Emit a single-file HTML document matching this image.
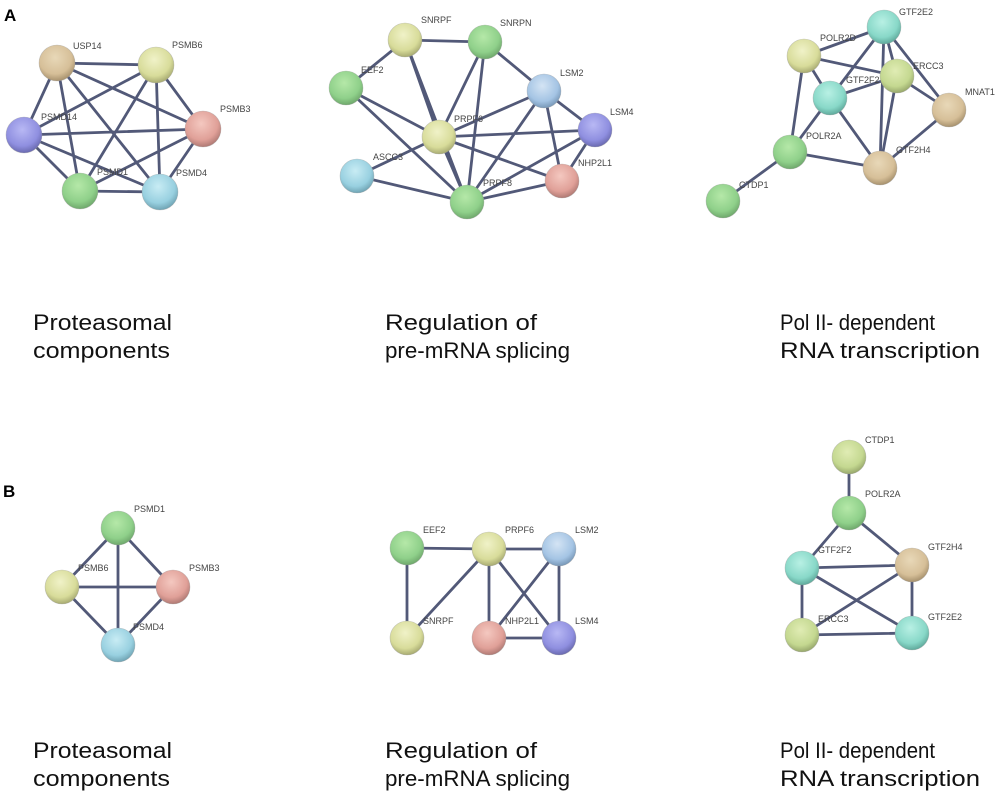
<!DOCTYPE html>
<html><head><meta charset="utf-8"><style>html,body{margin:0;padding:0;background:#fff}svg{display:block}</style></head>
<body>
<svg width="1000" height="798" viewBox="0 0 1000 798" xmlns="http://www.w3.org/2000/svg" font-family="Liberation Sans, sans-serif">
<defs>
<radialGradient id="g" cx="45%" cy="35%" r="65%"><stop offset="0" stop-color="#b5e8a8"/><stop offset="0.7" stop-color="#8fd08a"/><stop offset="1" stop-color="#6fa86c"/></radialGradient>
<radialGradient id="y" cx="45%" cy="35%" r="65%"><stop offset="0" stop-color="#f0f2c8"/><stop offset="0.7" stop-color="#d8dc9a"/><stop offset="1" stop-color="#a8ab72"/></radialGradient>
<radialGradient id="t" cx="45%" cy="35%" r="65%"><stop offset="0" stop-color="#e8d8b8"/><stop offset="0.7" stop-color="#d6bf98"/><stop offset="1" stop-color="#a8926e"/></radialGradient>
<radialGradient id="p" cx="45%" cy="35%" r="65%"><stop offset="0" stop-color="#b8b8f4"/><stop offset="0.7" stop-color="#8f8fe0"/><stop offset="1" stop-color="#6a6ab0"/></radialGradient>
<radialGradient id="r" cx="45%" cy="35%" r="65%"><stop offset="0" stop-color="#f4c8c0"/><stop offset="0.7" stop-color="#e0a098"/><stop offset="1" stop-color="#b07a74"/></radialGradient>
<radialGradient id="c" cx="45%" cy="35%" r="65%"><stop offset="0" stop-color="#c8ecf4"/><stop offset="0.7" stop-color="#98d0e0"/><stop offset="1" stop-color="#70a4b4"/></radialGradient>
<radialGradient id="b" cx="45%" cy="35%" r="65%"><stop offset="0" stop-color="#d4e4f4"/><stop offset="0.7" stop-color="#a4c4e4"/><stop offset="1" stop-color="#7898b8"/></radialGradient>
<radialGradient id="q" cx="45%" cy="35%" r="65%"><stop offset="0" stop-color="#b8f0e4"/><stop offset="0.7" stop-color="#88d8c8"/><stop offset="1" stop-color="#60aa9c"/></radialGradient>
<radialGradient id="o" cx="45%" cy="35%" r="65%"><stop offset="0" stop-color="#e0ecb4"/><stop offset="0.7" stop-color="#c4d890"/><stop offset="1" stop-color="#98a86c"/></radialGradient>
</defs>
<text x="4" y="21" font-size="17" font-weight="bold">A</text>
<text x="3" y="497" font-size="17" font-weight="bold">B</text>
<g stroke="#3f4769" stroke-width="2.8" stroke-opacity="0.9">
<path d="M57 63L156 65M57 63L203 129M57 63L24 135M57 63L80 191M57 63L160 192M156 65L203 129M156 65L24 135M156 65L80 191M156 65L160 192M203 129L24 135M203 129L80 191M203 129L160 192M24 135L80 191M24 135L160 192M80 191L160 192"/>
<path d="M405 40L485 42M405 40L346 88M405 40L439 137M405 40L467 202M485 42L439 137M485 42L467 202M485 42L544 91M346 88L439 137M346 88L467 202M544 91L439 137M544 91L595 130M544 91L562 181M544 91L467 202M595 130L439 137M595 130L562 181M595 130L467 202M439 137L357 176M439 137L467 202M439 137L562 181M357 176L467 202M562 181L467 202"/>
<path d="M884 27L804 56M884 27L830 98M884 27L897 76M884 27L949 110M884 27L880 168M804 56L897 76M804 56L830 98M804 56L790 152M830 98L897 76M830 98L790 152M830 98L880 168M897 76L949 110M897 76L880 168M949 110L880 168M790 152L880 168M790 152L723 201"/>
<path d="M118 528L62 587M118 528L173 587M118 528L118 645M62 587L173 587M62 587L118 645M173 587L118 645"/>
<path d="M407 548L489 549M489 549L559 549M407 548L407 638M489 549L407 638M489 549L489 638M489 549L559 638M559 549L489 638M559 549L559 638M489 638L559 638"/>
<path d="M849 457L849 513M849 513L802 568M849 513L912 565M802 568L912 565M802 568L802 635M802 568L912 633M912 565L802 635M912 565L912 633M802 635L912 633"/>
</g>
<g stroke="#9a9a9a" stroke-width="0.6" stroke-opacity="0.5">
<circle cx="57" cy="63" r="18" fill="url(#t)"/><circle cx="156" cy="65" r="18" fill="url(#y)"/><circle cx="203" cy="129" r="18" fill="url(#r)"/><circle cx="24" cy="135" r="18" fill="url(#p)"/><circle cx="80" cy="191" r="18" fill="url(#g)"/><circle cx="160" cy="192" r="18" fill="url(#c)"/>
<circle cx="405" cy="40" r="17" fill="url(#y)"/><circle cx="485" cy="42" r="17" fill="url(#g)"/><circle cx="346" cy="88" r="17" fill="url(#g)"/><circle cx="544" cy="91" r="17" fill="url(#b)"/><circle cx="595" cy="130" r="17" fill="url(#p)"/><circle cx="439" cy="137" r="17" fill="url(#y)"/><circle cx="357" cy="176" r="17" fill="url(#c)"/><circle cx="562" cy="181" r="17" fill="url(#r)"/><circle cx="467" cy="202" r="17" fill="url(#g)"/>
<circle cx="884" cy="27" r="17" fill="url(#q)"/><circle cx="804" cy="56" r="17" fill="url(#y)"/><circle cx="897" cy="76" r="17" fill="url(#o)"/><circle cx="830" cy="98" r="17" fill="url(#q)"/><circle cx="949" cy="110" r="17" fill="url(#t)"/><circle cx="790" cy="152" r="17" fill="url(#g)"/><circle cx="880" cy="168" r="17" fill="url(#t)"/><circle cx="723" cy="201" r="17" fill="url(#g)"/>
<circle cx="118" cy="528" r="17" fill="url(#g)"/><circle cx="62" cy="587" r="17" fill="url(#y)"/><circle cx="173" cy="587" r="17" fill="url(#r)"/><circle cx="118" cy="645" r="17" fill="url(#c)"/>
<circle cx="407" cy="548" r="17" fill="url(#g)"/><circle cx="489" cy="549" r="17" fill="url(#y)"/><circle cx="559" cy="549" r="17" fill="url(#b)"/><circle cx="407" cy="638" r="17" fill="url(#y)"/><circle cx="489" cy="638" r="17" fill="url(#r)"/><circle cx="559" cy="638" r="17" fill="url(#p)"/>
<circle cx="849" cy="457" r="17" fill="url(#o)"/><circle cx="849" cy="513" r="17" fill="url(#g)"/><circle cx="802" cy="568" r="17" fill="url(#q)"/><circle cx="912" cy="565" r="17" fill="url(#t)"/><circle cx="802" cy="635" r="17" fill="url(#o)"/><circle cx="912" cy="633" r="17" fill="url(#q)"/>
</g>
<g font-size="9" fill="#444">
<text x="73" y="49">USP14</text><text x="172" y="48">PSMB6</text><text x="220" y="112">PSMB3</text><text x="41" y="120">PSMD14</text><text x="97" y="175">PSMD1</text><text x="176" y="176">PSMD4</text>
<text x="421" y="23">SNRPF</text><text x="500" y="26">SNRPN</text><text x="361" y="73">EEF2</text><text x="560" y="76">LSM2</text><text x="610" y="115">LSM4</text><text x="454" y="122">PRPF6</text><text x="373" y="160">ASCC3</text><text x="578" y="166">NHP2L1</text><text x="483" y="186">PRPF8</text>
<text x="899" y="15">GTF2E2</text><text x="820" y="41">POLR2D</text><text x="913" y="69">ERCC3</text><text x="846" y="83">GTF2F2</text><text x="965" y="95">MNAT1</text><text x="806" y="139">POLR2A</text><text x="896" y="153">GTF2H4</text><text x="739" y="188">CTDP1</text>
<text x="134" y="512">PSMD1</text><text x="78" y="571">PSMB6</text><text x="189" y="571">PSMB3</text><text x="133" y="630">PSMD4</text>
<text x="423" y="533">EEF2</text><text x="505" y="533">PRPF6</text><text x="575" y="533">LSM2</text><text x="423" y="624">SNRPF</text><text x="505" y="624">NHP2L1</text><text x="575" y="624">LSM4</text>
<text x="865" y="443">CTDP1</text><text x="865" y="497">POLR2A</text><text x="818" y="553">GTF2F2</text><text x="928" y="550">GTF2H4</text><text x="818" y="622">ERCC3</text><text x="928" y="620">GTF2E2</text>
</g>
<g font-size="22" fill="#111">
<text x="33" y="330" textLength="139" lengthAdjust="spacingAndGlyphs">Proteasomal</text>
<text x="33" y="358" textLength="137" lengthAdjust="spacingAndGlyphs">components</text>
<text x="385" y="330" textLength="152" lengthAdjust="spacingAndGlyphs">Regulation of</text>
<text x="385" y="358" textLength="185" lengthAdjust="spacingAndGlyphs">pre-mRNA splicing</text>
<text x="780" y="330" textLength="155" lengthAdjust="spacingAndGlyphs">Pol II- dependent</text>
<text x="780" y="358" textLength="200" lengthAdjust="spacingAndGlyphs">RNA transcription</text>
<text x="33" y="758" textLength="139" lengthAdjust="spacingAndGlyphs">Proteasomal</text>
<text x="33" y="786" textLength="137" lengthAdjust="spacingAndGlyphs">components</text>
<text x="385" y="758" textLength="152" lengthAdjust="spacingAndGlyphs">Regulation of</text>
<text x="385" y="786" textLength="185" lengthAdjust="spacingAndGlyphs">pre-mRNA splicing</text>
<text x="780" y="758" textLength="155" lengthAdjust="spacingAndGlyphs">Pol II- dependent</text>
<text x="780" y="786" textLength="200" lengthAdjust="spacingAndGlyphs">RNA transcription</text>
</g>
</svg>
</body></html>
